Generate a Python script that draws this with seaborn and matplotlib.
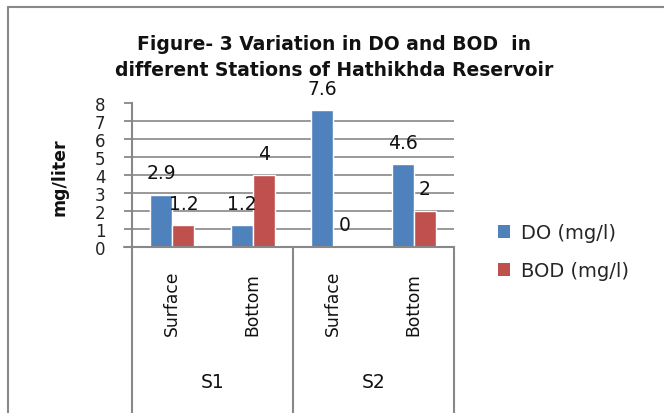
import matplotlib
matplotlib.use("Agg")
import matplotlib.pyplot as plt
import matplotlib.transforms as mtransforms
from matplotlib.lines import Line2D
from matplotlib.patches import Patch
import seaborn as sns
import pandas as pd

# ---- data ----
stations = ["S1", "S1", "S2", "S2"]
depths = ["Surface", "Bottom", "Surface", "Bottom"]
do_values = [2.9, 1.2, 7.6, 4.6]
bod_values = [1.2, 4, 0, 2]
series_names = ["DO (mg/l)", "BOD (mg/l)"]
yticks = [0, 1, 2, 3, 4, 5, 6, 7, 8]

categories = [f"{s}-{d}" for s, d in zip(stations, depths)]
df = pd.DataFrame({
    "cat": categories * 2,
    "value": do_values + bod_values,
    "series": [series_names[0]] * 4 + [series_names[1]] * 4,
})

sns.set_style("white")
plt.rcParams["font.family"] = ["DejaVu Sans"]

W, H = 664, 414
fig = plt.figure(figsize=(W / 100, H / 100), dpi=100)
ax = fig.add_axes([132 / W, 1 - 248 / H, 322 / W, 144 / H])

colors = ["#4F81BD", "#C0504D"]
sns.barplot(data=df, x="cat", y="value", hue="series", order=categories,
            hue_order=series_names, palette=colors, width=0.55,
            saturation=1, ax=ax, legend=False, errorbar=None)

ax.set_xlim(-0.5, 3.5)
ax.set_ylim(0, 8)
ax.set_yticks(yticks)
ax.set_yticklabels([str(t) for t in yticks], fontsize=12, color="#222222")
ax.tick_params(axis="y", length=6, width=1.3, color="#888888", pad=13, left=True, direction="out")
ax.set_xticks([])
ax.set_xlabel("")
ax.set_ylabel("")

for sp in ["top", "right"]:
    ax.spines[sp].set_visible(False)
ax.spines["left"].set_color("#888888")
ax.spines["left"].set_linewidth(1.5)
ax.spines["bottom"].set_color("#888888")
ax.spines["bottom"].set_linewidth(1.5)

# gridlines 1..7
for v in yticks[1:-1]:
    ax.axhline(v, color="#888888", lw=1.2, zorder=0)

# value labels
for cont in ax.containers:
    ax.bar_label(cont, labels=[f"{v:g}" for v in cont.datavalues],
                 padding=9, fontsize=13.5, color="#111111")

# category axis boxes
blend = mtransforms.blended_transform_factory(ax.transData, fig.transFigure)
ybot = 1 - 248 / H
for xv in [-0.5, 1.5, 3.5]:
    ax.plot([xv, xv], [ybot, -0.05], transform=blend, color="#888888",
            lw=1.5, clip_on=False)
# extend x axis to left of spine
ax.plot([-0.5 - 8 / 80.5, -0.5], [0, 0], color="#888888", lw=1.5, clip_on=False)

for i, d in enumerate(depths):
    ax.text(i, 1 - 336 / H, d, transform=blend, rotation=90, ha="center",
            va="bottom", fontsize=12.3, color="#111111")
for j, s in enumerate(["S1", "S2"]):
    ax.text(2 * j + 0.5, 1 - 383 / H, s, transform=blend, ha="center",
            va="center", fontsize=13.5, color="#111111")

# y label
fig.text(60 / W, 1 - 177 / H, "mg/liter", rotation=90, ha="center", va="center",
         fontsize=12.5, fontweight="bold", color="#111111")

# title
fig.text(334 / W, 1 - 45 / H, "Figure- 3 Variation in DO and BOD  in",
         ha="center", va="center", fontsize=13.5, fontweight="bold", color="#111111")
fig.text(334 / W, 1 - 70 / H, "different Stations of Hathikhda Reservoir",
         ha="center", va="center", fontsize=13.5, fontweight="bold", color="#111111")

# legend
handles = [Patch(facecolor=c, edgecolor="none") for c in colors]
fig.legend(handles, series_names, loc="upper left",
           bbox_to_anchor=(480 / W, 1 - 207 / H), frameon=False,
           prop={"size": 14}, handlelength=0.65,
           handleheight=0.65, handletextpad=0.55, labelspacing=0.95)

# outer frame (left and top)
fig.add_artist(Line2D([8 / W, 8 / W], [0, 1 - 8 / H], transform=fig.transFigure,
                      color="#888888", lw=1.5))
fig.add_artist(Line2D([8 / W, 1], [1 - 8 / H, 1 - 8 / H], transform=fig.transFigure,
                      color="#888888", lw=1.5))

fig.savefig("out.png", dpi=100)
